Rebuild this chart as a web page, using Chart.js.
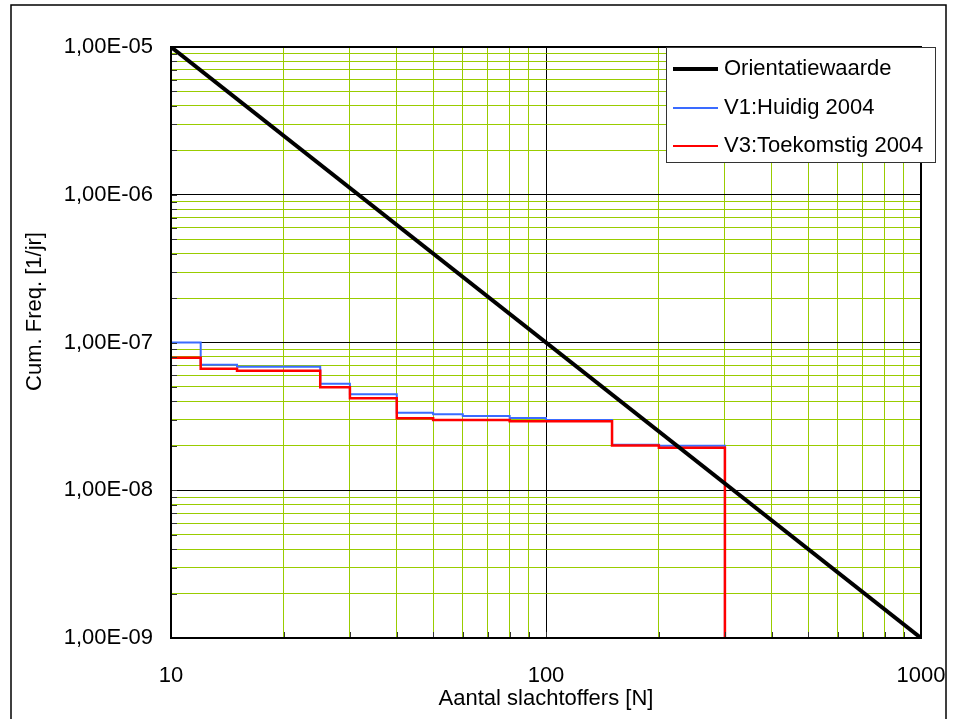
<!DOCTYPE html>
<html lang="nl">
<head>
  <meta charset="UTF-8">
  <title>FN-curve</title>
  <script src="https://cdn.jsdelivr.net/npm/chart.js@4.4.2/dist/chart.umd.min.js"></script>
  <style>
    body { margin: 0; background: #fff; }
    #wrap { width: 956px; height: 719px; }
  </style>
</head>
<body>
  <div id="wrap"><canvas id="fnChart" width="956" height="719"></canvas></div>

  <script>
    const seriesNames = ['Orientatiewaarde', 'V1:Huidig 2004', 'V3:Toekomstig 2004'];
    const seriesColors = ['#000000', '#3A6BFF', '#FF0000'];
    const orientX = [10, 1000];
    const orientY = [1e-5, 1e-9];
    const stepX = [10, 12, 15, 25, 30, 40, 50, 60, 80, 100, 150, 200, 300];
    const v1Y = [1.0e-7, 7.08e-8, 6.86e-8, 5.26e-8, 4.46e-8, 3.35e-8, 3.27e-8, 3.18e-8, 3.08e-8, 2.99e-8, 2.03e-8, 2.0e-8, 1e-9];
    const v3Y = [7.9e-8, 6.65e-8, 6.44e-8, 4.98e-8, 4.19e-8, 3.07e-8, 2.99e-8, 2.99e-8, 2.93e-8, 2.93e-8, 2.01e-8, 1.94e-8, 1e-9];
    const xTickValues = [10, 100, 1000];
    const xTickLabels = ['10', '100', '1000'];
    const yTickValues = [1e-9, 1e-8, 1e-7, 1e-6, 1e-5];
    const yTickLabels = ['1,00E-09', '1,00E-08', '1,00E-07', '1,00E-06', '1,00E-05'];
    const xTitle = 'Aantal slachtoffers [N]';
    const yTitle = 'Cum. Freq. [1/jr]';

    const fontFamily = "'Liberation Sans', Arial, sans-serif";
    Chart.defaults.font.family = fontFamily;
    Chart.defaults.font.size = 22;
    Chart.defaults.color = '#000';

    // 1..9 x 10^k between min and max, for the grid
    function logGrid(min, max) {
      const out = [];
      for (let e = Math.round(Math.log10(min)); e < Math.round(Math.log10(max)); e++) {
        for (let m = 1; m < 10; m++) out.push({ value: m * Math.pow(10, e) });
      }
      out.push({ value: max });
      return out;
    }
    function isDecade(v) {
      const l = Math.log10(v);
      return Math.abs(l - Math.round(l)) < 1e-9;
    }
    function labelFor(values, labels, v) {
      const i = values.findIndex(t => Math.abs(Math.log10(t) - Math.log10(v)) < 1e-9);
      return i < 0 ? '' : labels[i];
    }
    const gridColor = ctx => (ctx.tick && isDecade(ctx.tick.value)) ? '#000000' : '#99CC00';

    const extras = {
      id: 'extras',
      beforeDraw(chart) {
        const c = chart.ctx;
        c.save();
        c.strokeStyle = '#000';
        c.lineWidth = 1.5;
        c.strokeRect(11, 5, 935, 740);
        c.restore();
      },
      afterDatasetsDraw(chart) {
        const c = chart.ctx;
        const a = chart.chartArea;
        const xs = chart.scales.x, ys = chart.scales.y;
        c.save();
        c.strokeStyle = '#333';
        c.lineWidth = 1;
        c.beginPath();
        ys.ticks.forEach(t => {
          const y = Math.round(ys.getPixelForValue(t.value)) + 0.5;
          c.moveTo(a.left, y); c.lineTo(a.left + 6, y);
        });
        xs.ticks.forEach(t => {
          const x = Math.round(xs.getPixelForValue(t.value)) + 0.5;
          c.moveTo(x, a.bottom); c.lineTo(x, a.bottom - 6);
        });
        c.stroke();
        c.strokeStyle = '#000';
        c.lineWidth = 2;
        c.strokeRect(a.left, a.top, a.right - a.left, a.bottom - a.top);
        c.restore();
      },
      afterDraw(chart) {
        const c = chart.ctx;
        const a = chart.chartArea;
        c.save();
        // y title
        c.translate(35, (a.top + a.bottom) / 2 - 31);
        c.rotate(-Math.PI / 2);
        c.font = '22px ' + fontFamily;
        c.fillStyle = '#000';
        c.textAlign = 'center';
        c.textBaseline = 'middle';
        c.fillText(yTitle, 0, 0);
        c.restore();

        // legend box
        const lx = a.right - 255, ly = a.top, lw = 269, lh = 115;
        c.save();
        c.fillStyle = '#fff';
        c.fillRect(lx, ly, lw, lh);
        c.strokeStyle = '#333';
        c.lineWidth = 1;
        c.strokeRect(lx + 0.5, ly + 0.5, lw, lh);
        c.font = '22px ' + fontFamily;
        c.textBaseline = 'middle';
        c.textAlign = 'left';
        const rows = [22, 61, 99];
        chart.data.datasets.forEach((ds, i) => {
          const y = ly + rows[i];
          c.strokeStyle = ds.borderColor;
          c.lineWidth = i === 0 ? 4 : 2;
          c.beginPath();
          c.moveTo(lx + 7, y); c.lineTo(lx + 52, y);
          c.stroke();
          c.fillStyle = '#000';
          c.fillText(ds.label, lx + 58, y);
        });
        c.restore();
      }
    };

    new Chart(document.getElementById('fnChart'), {
      type: 'line',
      data: {
        datasets: [{
          label: seriesNames[0],
          data: orientX.map((x, i) => ({ x, y: orientY[i] })),
          borderColor: seriesColors[0],
          borderWidth: 4,
          order: 0
        }, {
          label: seriesNames[1],
          data: stepX.map((x, i) => ({ x, y: v1Y[i] })),
          borderColor: seriesColors[1],
          borderWidth: 2,
          stepped: 'before',
          order: 2
        }, {
          label: seriesNames[2],
          data: stepX.map((x, i) => ({ x, y: v3Y[i] })),
          borderColor: seriesColors[2],
          borderWidth: 2.5,
          stepped: 'before',
          order: 1
        }]
      },
      options: {
        responsive: false,
        animation: false,
        devicePixelRatio: 1,
        layout: { padding: { top: 47, right: 35, left: 0, bottom: 0 } },
        elements: { point: { radius: 0 }, line: { tension: 0, borderJoinStyle: 'miter' } },
        plugins: { legend: { display: false }, tooltip: { enabled: false } },
        scales: {
          x: {
            type: 'logarithmic',
            min: 10,
            max: 1000,
            afterBuildTicks: s => { s.ticks = logGrid(10, 1000); },
            afterFit: s => { s.height = 81; s.paddingLeft = 0; s.paddingRight = 0; },
            ticks: {
              autoSkip: false,
              maxRotation: 0,
              padding: 25,
              callback: v => labelFor(xTickValues, xTickLabels, v)
            },
            grid: { color: gridColor, lineWidth: 1, drawTicks: false },
            border: { color: '#000', width: 2 },
            title: { display: true, text: xTitle, padding: { top: 0, bottom: 7 } }
          },
          y: {
            type: 'logarithmic',
            min: 1e-9,
            max: 1e-5,
            afterBuildTicks: s => { s.ticks = logGrid(1e-9, 1e-5); },
            afterFit: s => { s.width = 171; s.paddingTop = 0; s.paddingBottom = 0; },
            ticks: {
              autoSkip: false,
              padding: 18,
              callback: v => labelFor(yTickValues, yTickLabels, v)
            },
            grid: { color: gridColor, lineWidth: 1, drawTicks: false },
            border: { color: '#000', width: 2 }
          }
        }
      },
      plugins: [extras]
    });
  </script>
</body>
</html>
